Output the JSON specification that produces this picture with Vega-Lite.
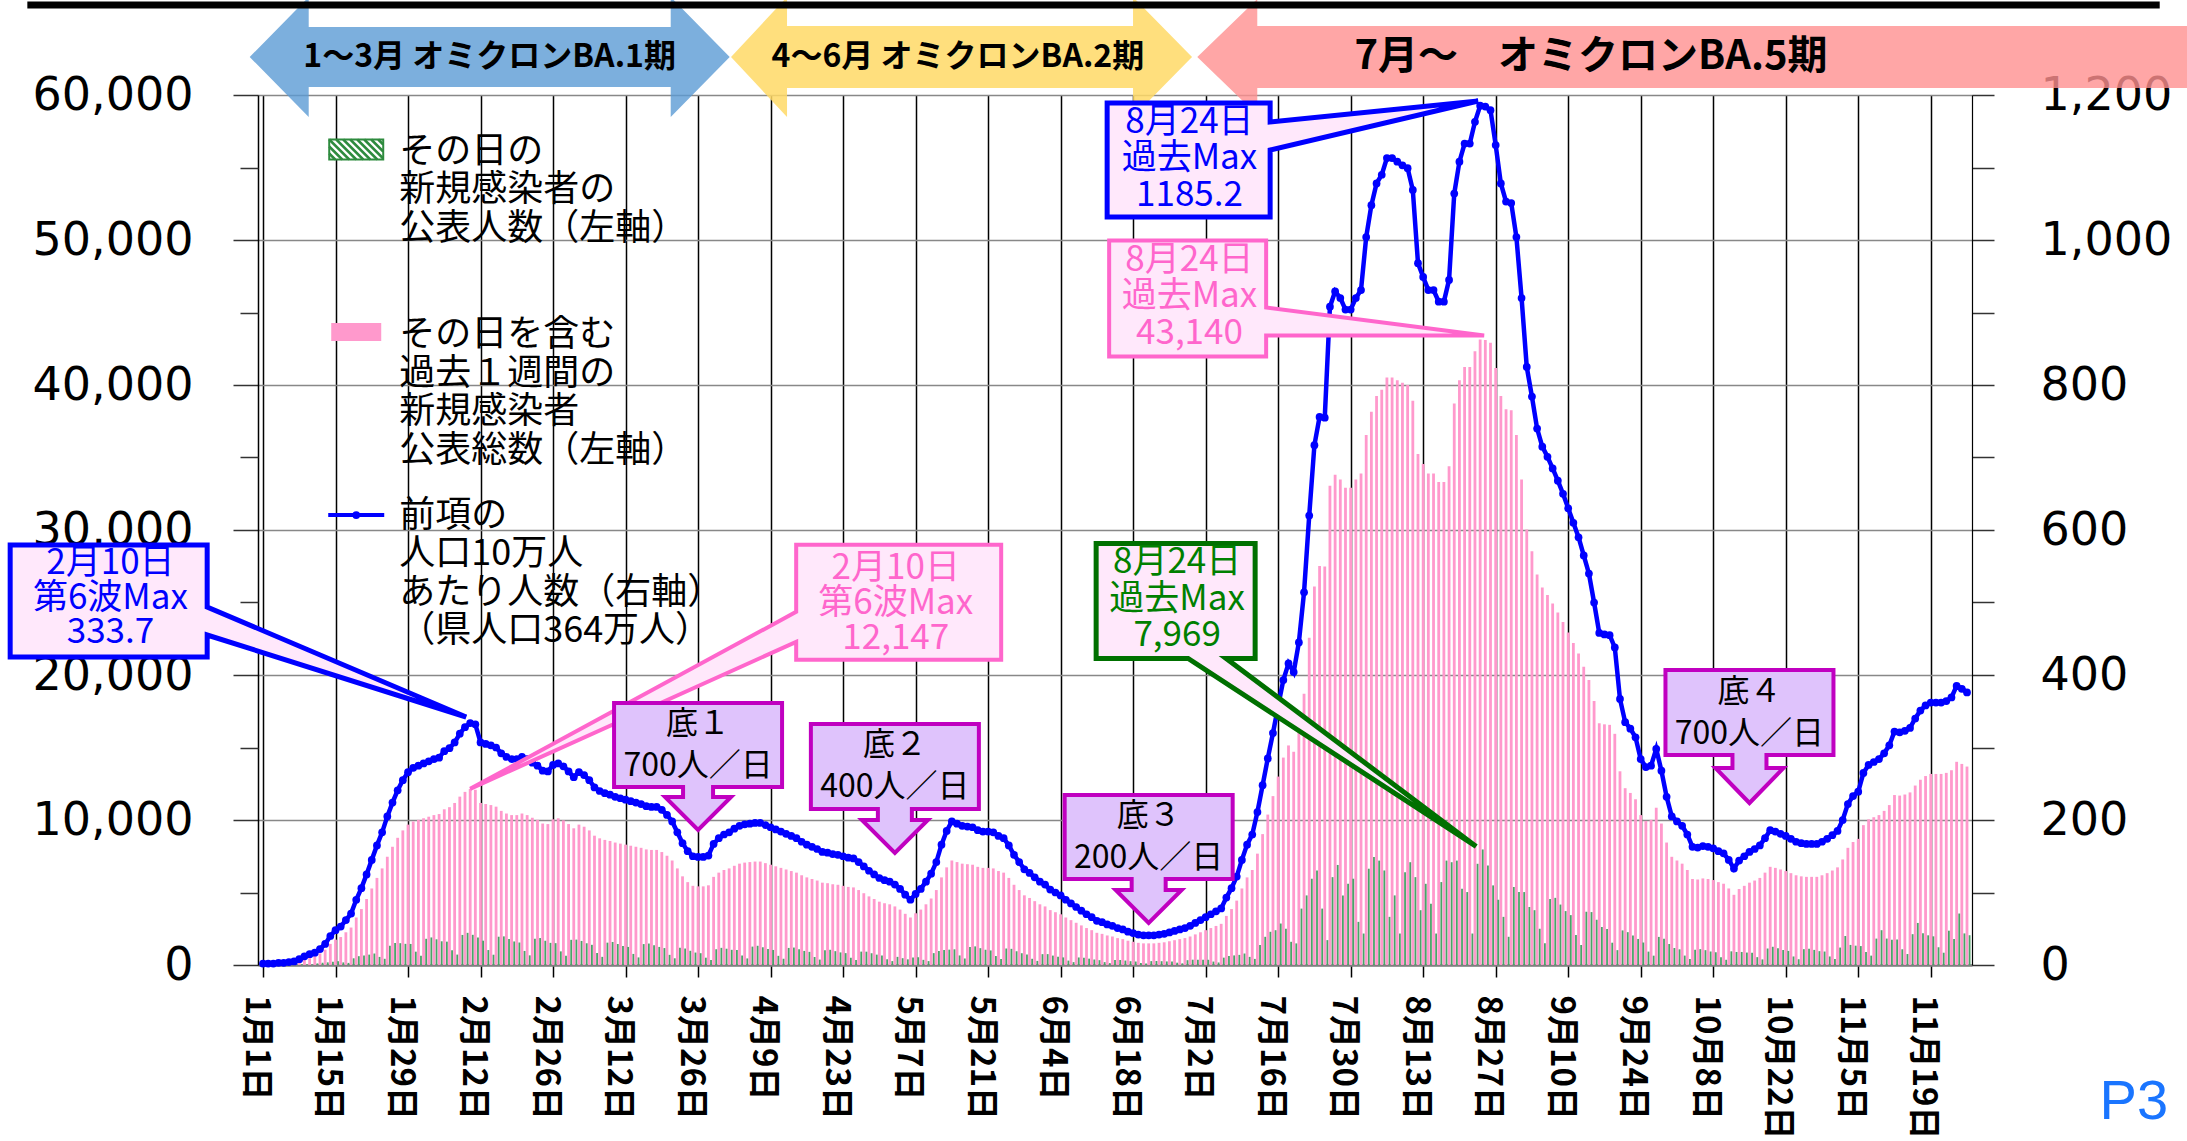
{
"$schema":"https://vega.github.io/schema/vega-lite/v6.json",
"width":1714,"height":870,
"autosize":"none",
"padding":{"left":258,"top":95,"right":215,"bottom":176},
"background":"white",
"config":{"view":{"stroke":null},"font":"Noto Sans CJK JP"},
"datasets":{"series":[
{"d":"2022-01-01","n":11,"w":73,"r":2},{"d":"2022-01-02","n":7,"w":73,"r":2},{"d":"2022-01-03","n":5,"w":73,"r":2},{"d":"2022-01-04","n":20,"w":109,"r":3},{"d":"2022-01-05","n":20,"w":109,"r":3},{"d":"2022-01-06","n":25,"w":146,"r":4},{"d":"2022-01-07","n":29,"w":182,"r":5},{"d":"2022-01-08","n":44,"w":291,"r":8},{"d":"2022-01-09","n":41,"w":437,"r":12},{"d":"2022-01-10","n":35,"w":546,"r":15},{"d":"2022-01-11","n":111,"w":619,"r":17},{"d":"2022-01-12","n":149,"w":801,"r":22},{"d":"2022-01-13","n":181,"w":1056,"r":29},{"d":"2022-01-14","n":229,"w":1456,"r":40},{"d":"2022-01-15","n":262,"w":1747,"r":48},{"d":"2022-01-16","n":179,"w":1929,"r":53},{"d":"2022-01-17","n":145,"w":2257,"r":62},{"d":"2022-01-18","n":462,"w":2584,"r":71},{"d":"2022-01-19","n":608,"w":3276,"r":90},{"d":"2022-01-20","n":661,"w":3858,"r":106},{"d":"2022-01-21","n":715,"w":4550,"r":125},{"d":"2022-01-22","n":792,"w":5278,"r":145},{"d":"2022-01-23","n":558,"w":6006,"r":165},{"d":"2022-01-24","n":428,"w":6661,"r":183},{"d":"2022-01-25","n":1333,"w":7462,"r":205},{"d":"2022-01-26","n":1514,"w":8154,"r":224},{"d":"2022-01-27","n":1504,"w":8772,"r":241},{"d":"2022-01-28","n":1459,"w":9282,"r":255},{"d":"2022-01-29","n":1452,"w":9682,"r":266},{"d":"2022-01-30","n":919,"w":9901,"r":272},{"d":"2022-01-31","n":644,"w":10010,"r":275},
{"d":"2022-02-01","n":1807,"w":10119,"r":278},{"d":"2022-02-02","n":1900,"w":10228,"r":281},{"d":"2022-02-03","n":1772,"w":10338,"r":284},{"d":"2022-02-04","n":1636,"w":10410,"r":286},{"d":"2022-02-05","n":1611,"w":10738,"r":295},{"d":"2022-02-06","n":1011,"w":10884,"r":299},{"d":"2022-02-07","n":718,"w":11175,"r":307},{"d":"2022-02-08","n":2074,"w":11612,"r":319},{"d":"2022-02-09","n":2217,"w":11939,"r":328},{"d":"2022-02-10","n":2082,"w":12147,"r":333.7},{"d":"2022-02-11","n":1899,"w":12085,"r":332},{"d":"2022-02-12","n":1676,"w":11175,"r":307},{"d":"2022-02-13","n":1031,"w":11102,"r":305},{"d":"2022-02-14","n":709,"w":11029,"r":303},{"d":"2022-02-15","n":1950,"w":10920,"r":300},{"d":"2022-02-16","n":1974,"w":10629,"r":292},{"d":"2022-02-17","n":1791,"w":10447,"r":287},{"d":"2022-02-18","n":1624,"w":10338,"r":284},{"d":"2022-02-19","n":1551,"w":10338,"r":284},{"d":"2022-02-20","n":970,"w":10447,"r":287},{"d":"2022-02-21","n":665,"w":10338,"r":284},{"d":"2022-02-22","n":1814,"w":10156,"r":279},{"d":"2022-02-23","n":1859,"w":10010,"r":275},{"d":"2022-02-24","n":1672,"w":9755,"r":268},{"d":"2022-02-25","n":1527,"w":9719,"r":267},{"d":"2022-02-26","n":1507,"w":10046,"r":276},{"d":"2022-02-27","n":940,"w":10119,"r":278},{"d":"2022-02-28","n":641,"w":9974,"r":274},
{"d":"2022-03-01","n":1736,"w":9719,"r":267},{"d":"2022-03-02","n":1751,"w":9428,"r":259},{"d":"2022-03-03","n":1660,"w":9682,"r":266},{"d":"2022-03-04","n":1499,"w":9537,"r":262},{"d":"2022-03-05","n":1392,"w":9282,"r":255},{"d":"2022-03-06","n":828,"w":8918,"r":245},{"d":"2022-03-07","n":562,"w":8736,"r":240},{"d":"2022-03-08","n":1541,"w":8627,"r":237},{"d":"2022-03-09","n":1589,"w":8554,"r":235},{"d":"2022-03-10","n":1448,"w":8445,"r":232},{"d":"2022-03-11","n":1316,"w":8372,"r":230},{"d":"2022-03-12","n":1245,"w":8299,"r":228},{"d":"2022-03-13","n":764,"w":8226,"r":226},{"d":"2022-03-14","n":524,"w":8154,"r":224},{"d":"2022-03-15","n":1443,"w":8081,"r":222},{"d":"2022-03-16","n":1480,"w":7972,"r":219},{"d":"2022-03-17","n":1360,"w":7935,"r":218},{"d":"2022-03-18","n":1247,"w":7935,"r":218},{"d":"2022-03-19","n":1168,"w":7790,"r":214},{"d":"2022-03-20","n":700,"w":7535,"r":207},{"d":"2022-03-21","n":463,"w":7207,"r":198},{"d":"2022-03-22","n":1190,"w":6661,"r":183},{"d":"2022-03-23","n":1136,"w":6115,"r":168},{"d":"2022-03-24","n":980,"w":5715,"r":157},{"d":"2022-03-25","n":858,"w":5460,"r":150},{"d":"2022-03-26","n":814,"w":5424,"r":149},{"d":"2022-03-27","n":504,"w":5424,"r":149},{"d":"2022-03-28","n":353,"w":5496,"r":151},{"d":"2022-03-29","n":1086,"w":6079,"r":167},{"d":"2022-03-30","n":1183,"w":6370,"r":175},{"d":"2022-03-31","n":1123,"w":6552,"r":180},
{"d":"2022-04-01","n":1047,"w":6661,"r":183},{"d":"2022-04-02","n":1026,"w":6843,"r":188},{"d":"2022-04-03","n":649,"w":6989,"r":192},{"d":"2022-04-04","n":454,"w":7062,"r":194},{"d":"2022-04-05","n":1268,"w":7098,"r":195},{"d":"2022-04-06","n":1325,"w":7134,"r":196},{"d":"2022-04-07","n":1223,"w":7134,"r":196},{"d":"2022-04-08","n":1104,"w":7025,"r":193},{"d":"2022-04-09","n":1037,"w":6916,"r":190},{"d":"2022-04-10","n":632,"w":6807,"r":187},{"d":"2022-04-11","n":431,"w":6698,"r":184},{"d":"2022-04-12","n":1177,"w":6588,"r":181},{"d":"2022-04-13","n":1203,"w":6479,"r":178},{"d":"2022-04-14","n":1092,"w":6370,"r":175},{"d":"2022-04-15","n":972,"w":6188,"r":170},{"d":"2022-04-16","n":906,"w":6042,"r":166},{"d":"2022-04-17","n":551,"w":5933,"r":163},{"d":"2022-04-18","n":374,"w":5824,"r":160},{"d":"2022-04-19","n":1014,"w":5678,"r":156},{"d":"2022-04-20","n":1048,"w":5642,"r":155},{"d":"2022-04-21","n":955,"w":5569,"r":153},{"d":"2022-04-22","n":869,"w":5533,"r":152},{"d":"2022-04-23","n":819,"w":5460,"r":150},{"d":"2022-04-24","n":500,"w":5387,"r":148},{"d":"2022-04-25","n":344,"w":5351,"r":147},{"d":"2022-04-26","n":923,"w":5169,"r":142},{"d":"2022-04-27","n":919,"w":4950,"r":136},{"d":"2022-04-28","n":811,"w":4732,"r":130},{"d":"2022-04-29","n":715,"w":4550,"r":125},{"d":"2022-04-30","n":655,"w":4368,"r":120},
{"d":"2022-05-01","n":395,"w":4259,"r":117},{"d":"2022-05-02","n":269,"w":4186,"r":115},{"d":"2022-05-03","n":560,"w":4040,"r":111},{"d":"2022-05-04","n":470,"w":3822,"r":105},{"d":"2022-05-05","n":390,"w":3531,"r":97},{"d":"2022-05-06","n":515,"w":3276,"r":90},{"d":"2022-05-07","n":535,"w":3567,"r":98},{"d":"2022-05-08","n":355,"w":3822,"r":105},{"d":"2022-05-09","n":269,"w":4186,"r":115},{"d":"2022-05-10","n":819,"w":4586,"r":126},{"d":"2022-05-11","n":960,"w":5169,"r":142},{"d":"2022-05-12","n":1036,"w":6042,"r":166},{"d":"2022-05-13","n":1058,"w":6734,"r":185},{"d":"2022-05-14","n":1081,"w":7207,"r":198},{"d":"2022-05-15","n":659,"w":7098,"r":195},{"d":"2022-05-16","n":449,"w":6989,"r":192},{"d":"2022-05-17","n":1242,"w":6952,"r":191},{"d":"2022-05-18","n":1284,"w":6916,"r":190},{"d":"2022-05-19","n":1161,"w":6770,"r":186},{"d":"2022-05-20","n":1052,"w":6698,"r":184},{"d":"2022-05-21","n":1005,"w":6698,"r":184},{"d":"2022-05-22","n":619,"w":6661,"r":183},{"d":"2022-05-23","n":417,"w":6479,"r":178},{"d":"2022-05-24","n":1138,"w":6370,"r":175},{"d":"2022-05-25","n":1115,"w":6006,"r":165},{"d":"2022-05-26","n":948,"w":5533,"r":152},{"d":"2022-05-27","n":812,"w":5169,"r":142},{"d":"2022-05-28","n":721,"w":4805,"r":132},{"d":"2022-05-29","n":429,"w":4623,"r":127},{"d":"2022-05-30","n":283,"w":4404,"r":121},{"d":"2022-05-31","n":748,"w":4186,"r":115},
{"d":"2022-06-01","n":750,"w":4040,"r":111},{"d":"2022-06-02","n":649,"w":3786,"r":104},{"d":"2022-06-03","n":572,"w":3640,"r":100},{"d":"2022-06-04","n":524,"w":3494,"r":96},{"d":"2022-06-05","n":304,"w":3276,"r":90},{"d":"2022-06-06","n":199,"w":3094,"r":85},{"d":"2022-06-07","n":520,"w":2912,"r":80},{"d":"2022-06-08","n":507,"w":2730,"r":75},{"d":"2022-06-09","n":437,"w":2548,"r":70},{"d":"2022-06-10","n":378,"w":2402,"r":66},{"d":"2022-06-11","n":333,"w":2220,"r":61},{"d":"2022-06-12","n":199,"w":2148,"r":59},{"d":"2022-06-13","n":131,"w":2038,"r":56},{"d":"2022-06-14","n":351,"w":1966,"r":54},{"d":"2022-06-15","n":345,"w":1856,"r":51},{"d":"2022-06-16","n":306,"w":1784,"r":49},{"d":"2022-06-17","n":263,"w":1674,"r":46},{"d":"2022-06-18","n":240,"w":1602,"r":44},{"d":"2022-06-19","n":142,"w":1529,"r":42},{"d":"2022-06-20","n":96,"w":1492,"r":41},{"d":"2022-06-21","n":267,"w":1492,"r":41},{"d":"2022-06-22","n":277,"w":1492,"r":41},{"d":"2022-06-23","n":262,"w":1529,"r":42},{"d":"2022-06-24","n":246,"w":1565,"r":43},{"d":"2022-06-25","n":246,"w":1638,"r":45},{"d":"2022-06-26","n":159,"w":1711,"r":47},{"d":"2022-06-27","n":115,"w":1784,"r":49},{"d":"2022-06-28","n":332,"w":1856,"r":51},{"d":"2022-06-29","n":365,"w":1966,"r":54},{"d":"2022-06-30","n":362,"w":2111,"r":58},
{"d":"2022-07-01","n":355,"w":2257,"r":62},{"d":"2022-07-02","n":360,"w":2402,"r":66},{"d":"2022-07-03","n":237,"w":2548,"r":70},{"d":"2022-07-04","n":173,"w":2694,"r":74},{"d":"2022-07-05","n":507,"w":2839,"r":78},{"d":"2022-07-06","n":629,"w":3385,"r":93},{"d":"2022-07-07","n":661,"w":3858,"r":106},{"d":"2022-07-08","n":698,"w":4441,"r":122},{"d":"2022-07-09","n":792,"w":5278,"r":145},{"d":"2022-07-10","n":561,"w":6042,"r":166},{"d":"2022-07-11","n":421,"w":6552,"r":180},{"d":"2022-07-12","n":1372,"w":7680,"r":211},{"d":"2022-07-13","n":1945,"w":9027,"r":248},{"d":"2022-07-14","n":2290,"w":10374,"r":285},{"d":"2022-07-15","n":2400,"w":11648,"r":320},{"d":"2022-07-16","n":2860,"w":12995,"r":357},{"d":"2022-07-17","n":2500,"w":14305,"r":393},{"d":"2022-07-18","n":1600,"w":15142,"r":416},{"d":"2022-07-19","n":1490,"w":14706,"r":404},{"d":"2022-07-20","n":3890,"w":16198,"r":445},{"d":"2022-07-21","n":4800,"w":18710,"r":514},{"d":"2022-07-22","n":5950,"w":22568,"r":620},{"d":"2022-07-23","n":6520,"w":26099,"r":717},{"d":"2022-07-24","n":3890,"w":27518,"r":756},{"d":"2022-07-25","n":1716,"w":27482,"r":755},{"d":"2022-07-26","n":6060,"w":33051,"r":908},{"d":"2022-07-27","n":6900,"w":33816,"r":929},{"d":"2022-07-28","n":4800,"w":33488,"r":920},{"d":"2022-07-29","n":5600,"w":32906,"r":904},{"d":"2022-07-30","n":5950,"w":32906,"r":904},{"d":"2022-07-31","n":2975,"w":33488,"r":920},
{"d":"2022-08-01","n":2170,"w":33888,"r":931},{"d":"2022-08-02","n":6640,"w":36546,"r":1004},{"d":"2022-08-03","n":7440,"w":38147,"r":1048},{"d":"2022-08-04","n":7200,"w":39239,"r":1078},{"d":"2022-08-05","n":6520,"w":39676,"r":1090},{"d":"2022-08-06","n":3320,"w":40513,"r":1113},{"d":"2022-08-07","n":4800,"w":40513,"r":1113},{"d":"2022-08-08","n":2170,"w":40331,"r":1108},{"d":"2022-08-09","n":6400,"w":40149,"r":1103},{"d":"2022-08-10","n":7090,"w":40004,"r":1099},{"d":"2022-08-11","n":6060,"w":38912,"r":1069},{"d":"2022-08-12","n":3780,"w":35235,"r":968},{"d":"2022-08-13","n":5600,"w":34544,"r":949},{"d":"2022-08-14","n":4230,"w":33888,"r":931},{"d":"2022-08-15","n":2170,"w":33888,"r":931},{"d":"2022-08-16","n":5720,"w":33306,"r":915},{"d":"2022-08-17","n":7200,"w":33306,"r":915},{"d":"2022-08-18","n":7090,"w":34398,"r":945},{"d":"2022-08-19","n":7200,"w":38730,"r":1064},{"d":"2022-08-20","n":5260,"w":40331,"r":1108},{"d":"2022-08-21","n":5030,"w":41241,"r":1133},{"d":"2022-08-22","n":2170,"w":41241,"r":1133},{"d":"2022-08-23","n":6980,"w":42333,"r":1163},{"d":"2022-08-24","n":7969,"w":43140,"r":1185.2},{"d":"2022-08-25","n":6860,"w":43098,"r":1184},{"d":"2022-08-26","n":5490,"w":42916,"r":1179},{"d":"2022-08-27","n":4500,"w":41168,"r":1131},{"d":"2022-08-28","n":3320,"w":39239,"r":1078},{"d":"2022-08-29","n":1945,"w":38329,"r":1053},{"d":"2022-08-30","n":5380,"w":38256,"r":1051},{"d":"2022-08-31","n":5030,"w":36546,"r":1004},
{"d":"2022-09-01","n":5030,"w":33488,"r":920},{"d":"2022-09-02","n":4000,"w":30030,"r":825},{"d":"2022-09-03","n":3780,"w":28538,"r":784},{"d":"2022-09-04","n":2500,"w":26936,"r":740},{"d":"2022-09-05","n":1500,"w":26026,"r":715},{"d":"2022-09-06","n":4557,"w":25516,"r":701},{"d":"2022-09-07","n":4631,"w":24934,"r":685},{"d":"2022-09-08","n":4168,"w":24315,"r":668},{"d":"2022-09-09","n":3718,"w":23660,"r":650},{"d":"2022-09-10","n":3440,"w":22932,"r":630},{"d":"2022-09-11","n":2062,"w":22204,"r":610},{"d":"2022-09-12","n":1381,"w":21476,"r":590},{"d":"2022-09-13","n":3673,"w":20566,"r":565},{"d":"2022-09-14","n":3650,"w":19656,"r":540},{"d":"2022-09-15","n":3120,"w":18200,"r":500},{"d":"2022-09-16","n":2620,"w":16671,"r":458},{"d":"2022-09-17","n":2490,"w":16598,"r":456},{"d":"2022-09-18","n":1538,"w":16562,"r":455},{"d":"2022-09-19","n":1025,"w":15943,"r":438},{"d":"2022-09-20","n":2386,"w":13359,"r":367},{"d":"2022-09-21","n":2265,"w":12194,"r":335},{"d":"2022-09-22","n":2034,"w":11866,"r":326},{"d":"2022-09-23","n":1796,"w":11430,"r":314},{"d":"2022-09-24","n":1551,"w":10338,"r":284},{"d":"2022-09-25","n":923,"w":9937,"r":273},{"d":"2022-09-26","n":644,"w":10010,"r":275},{"d":"2022-09-27","n":1937,"w":10847,"r":298},{"d":"2022-09-28","n":1812,"w":9755,"r":268},{"d":"2022-09-29","n":1448,"w":8445,"r":232},{"d":"2022-09-30","n":1173,"w":7462,"r":205},
{"d":"2022-10-01","n":1081,"w":7207,"r":198},{"d":"2022-10-02","n":649,"w":6989,"r":192},{"d":"2022-10-03","n":421,"w":6552,"r":180},{"d":"2022-10-04","n":1060,"w":5933,"r":163},{"d":"2022-10-05","n":1095,"w":5897,"r":162},{"d":"2022-10-06","n":1023,"w":5970,"r":164},{"d":"2022-10-07","n":932,"w":5933,"r":163},{"d":"2022-10-08","n":879,"w":5860,"r":161},{"d":"2022-10-09","n":531,"w":5715,"r":157},{"d":"2022-10-10","n":360,"w":5606,"r":154},{"d":"2022-10-11","n":943,"w":5278,"r":145},{"d":"2022-10-12","n":899,"w":4841,"r":133},{"d":"2022-10-13","n":899,"w":5242,"r":144},{"d":"2022-10-14","n":858,"w":5460,"r":150},{"d":"2022-10-15","n":852,"w":5678,"r":156},{"d":"2022-10-16","n":541,"w":5824,"r":160},{"d":"2022-10-17","n":386,"w":6006,"r":165},{"d":"2022-10-18","n":1138,"w":6370,"r":175},{"d":"2022-10-19","n":1257,"w":6770,"r":186},{"d":"2022-10-20","n":1148,"w":6698,"r":184},{"d":"2022-10-21","n":1035,"w":6588,"r":181},{"d":"2022-10-22","n":972,"w":6479,"r":178},{"d":"2022-10-23","n":588,"w":6334,"r":174},{"d":"2022-10-24","n":398,"w":6188,"r":170},{"d":"2022-10-25","n":1092,"w":6115,"r":168},{"d":"2022-10-26","n":1129,"w":6079,"r":167},{"d":"2022-10-27","n":1042,"w":6079,"r":167},{"d":"2022-10-28","n":955,"w":6079,"r":167},{"d":"2022-10-29","n":928,"w":6188,"r":170},{"d":"2022-10-30","n":588,"w":6334,"r":174},{"d":"2022-10-31","n":419,"w":6516,"r":179},
{"d":"2022-11-01","n":1203,"w":6734,"r":185},{"d":"2022-11-02","n":2000,"w":7280,"r":200},{"d":"2022-11-03","n":1385,"w":8081,"r":222},{"d":"2022-11-04","n":1333,"w":8481,"r":233},{"d":"2022-11-05","n":1305,"w":8700,"r":239},{"d":"2022-11-06","n":896,"w":9646,"r":265},{"d":"2022-11-07","n":646,"w":10046,"r":276},{"d":"2022-11-08","n":1820,"w":10192,"r":280},{"d":"2022-11-09","n":2400,"w":10338,"r":284},{"d":"2022-11-10","n":1822,"w":10629,"r":292},{"d":"2022-11-11","n":1733,"w":11029,"r":303},{"d":"2022-11-12","n":1758,"w":11721,"r":322},{"d":"2022-11-13","n":1085,"w":11684,"r":321},{"d":"2022-11-14","n":756,"w":11757,"r":323},{"d":"2022-11-15","n":2126,"w":11903,"r":327},{"d":"2022-11-16","n":2900,"w":12376,"r":340},{"d":"2022-11-17","n":2190,"w":12776,"r":351},{"d":"2022-11-18","n":2048,"w":13031,"r":358},{"d":"2022-11-19","n":1977,"w":13177,"r":362},{"d":"2022-11-20","n":1224,"w":13177,"r":362},{"d":"2022-11-21","n":847,"w":13177,"r":362},{"d":"2022-11-22","n":2366,"w":13250,"r":364},{"d":"2022-11-23","n":1800,"w":13432,"r":369},{"d":"2022-11-24","n":3550,"w":14014,"r":385},{"d":"2022-11-25","n":2179,"w":13868,"r":381},{"d":"2022-11-26","n":2053,"w":13686,"r":376}
]},
"layer":[
  {"data":{"name":"series"},
   "mark":{"type":"bar","width":2.8,"color":"#ff99cc"},
   "encoding":{
    "x":{"field":"d","type":"temporal","scale":{"type":"utc","domain":[1640995200000,1669420800000]},
     "axis":{"title":null,
      "values":[{"year":2022,"month":1,"date":1,"utc":true},{"year":2022,"month":1,"date":8,"utc":true},{"year":2022,"month":1,"date":15,"utc":true},{"year":2022,"month":1,"date":22,"utc":true},{"year":2022,"month":1,"date":29,"utc":true},{"year":2022,"month":2,"date":5,"utc":true},{"year":2022,"month":2,"date":12,"utc":true},{"year":2022,"month":2,"date":19,"utc":true},{"year":2022,"month":2,"date":26,"utc":true},{"year":2022,"month":3,"date":5,"utc":true},{"year":2022,"month":3,"date":12,"utc":true},{"year":2022,"month":3,"date":19,"utc":true},{"year":2022,"month":3,"date":26,"utc":true},{"year":2022,"month":4,"date":2,"utc":true},{"year":2022,"month":4,"date":9,"utc":true},{"year":2022,"month":4,"date":16,"utc":true},{"year":2022,"month":4,"date":23,"utc":true},{"year":2022,"month":4,"date":30,"utc":true},{"year":2022,"month":5,"date":7,"utc":true},{"year":2022,"month":5,"date":14,"utc":true},{"year":2022,"month":5,"date":21,"utc":true},{"year":2022,"month":5,"date":28,"utc":true},{"year":2022,"month":6,"date":4,"utc":true},{"year":2022,"month":6,"date":11,"utc":true},{"year":2022,"month":6,"date":18,"utc":true},{"year":2022,"month":6,"date":25,"utc":true},{"year":2022,"month":7,"date":2,"utc":true},{"year":2022,"month":7,"date":9,"utc":true},{"year":2022,"month":7,"date":16,"utc":true},{"year":2022,"month":7,"date":23,"utc":true},{"year":2022,"month":7,"date":30,"utc":true},{"year":2022,"month":8,"date":6,"utc":true},{"year":2022,"month":8,"date":13,"utc":true},{"year":2022,"month":8,"date":20,"utc":true},{"year":2022,"month":8,"date":27,"utc":true},{"year":2022,"month":9,"date":3,"utc":true},{"year":2022,"month":9,"date":10,"utc":true},{"year":2022,"month":9,"date":17,"utc":true},{"year":2022,"month":9,"date":24,"utc":true},{"year":2022,"month":10,"date":1,"utc":true},{"year":2022,"month":10,"date":8,"utc":true},{"year":2022,"month":10,"date":15,"utc":true},{"year":2022,"month":10,"date":22,"utc":true},{"year":2022,"month":10,"date":29,"utc":true},{"year":2022,"month":11,"date":5,"utc":true},{"year":2022,"month":11,"date":12,"utc":true},{"year":2022,"month":11,"date":19,"utc":true},{"year":2022,"month":11,"date":26,"utc":true}],
      "labelExpr":"round((datum.value - 1640995200000) / 604800000) % 2 == 0 ? (utcmonth(datum.value) + 1) + '月' + utcdate(datum.value) + '日' : ''",
      "labelAngle":90,"labelAlign":"left","labelBaseline":"middle","labelOffset":-8,
      "labelFont":"Noto Sans CJK JP","labelFontSize":33,"labelFontWeight":"bold","labelColor":"#000000",
      "labelPadding":18,"labelOverlap":false,"labelBound":false,"labelFlush":false,
      "tickSize":12,"tickColor":"#000000","tickWidth":1.5,
      "domainColor":"#808080","domainWidth":2.5,
      "grid":true,"gridColor":"#000000","gridWidth":1.5}},
    "y":{"field":"w","type":"quantitative","scale":{"domain":[0,60000],"nice":false},
     "axis":{"title":null,"orient":"left",
      "values":[0,10000,20000,30000,40000,50000,60000],
      "labelExpr":"format(datum.value, ',')",
      "labelFont":"DejaVu Sans","labelFontSize":46,"labelColor":"#000000","labelPadding":40,
      "tickSize":25,"tickColor":"#333333","tickWidth":1.5,"domainColor":"#000000","domainWidth":1.5,
      "grid":true,"gridColor":"#888888","gridWidth":1.5,
      "labelFlush":false}}}},
  {"data":{"name":"series"},
   "mark":{"type":"bar","width":1.8,"color":"#4aa368","xOffset":2.6},
   "encoding":{
    "x":{"field":"d","type":"temporal","scale":{"type":"utc","domain":[1640995200000,1669420800000]}},
    "y":{"field":"n","type":"quantitative","scale":{"domain":[0,60000],"nice":false},
     "axis":{"title":null,"orient":"left","values":[5000,15000,25000,35000,45000,55000],"labels":false,"domain":false,"grid":false,"tickSize":18,"tickColor":"#333333","tickWidth":1.5}}}},
  {"data":{"name":"series"},
   "mark":{"type":"line","color":"#0000ff","strokeWidth":4.5,"point":{"filled":true,"size":60,"color":"#0000ff","opacity":1}},
   "encoding":{
    "x":{"field":"d","type":"temporal","scale":{"type":"utc","domain":[1640995200000,1669420800000]}},
    "y":{"field":"r","type":"quantitative","scale":{"domain":[0,1200],"nice":false},
     "axis":{"title":null,"orient":"right",
      "values":[0,100,200,300,400,500,600,700,800,900,1000,1100,1200],
      "labelExpr":"datum.value % 200 == 0 ? format(datum.value, ',') : ''",
      "labelFont":"DejaVu Sans","labelFontSize":46,"labelColor":"#000000","labelPadding":46,
      "tickSize":22,"tickColor":"#333333","tickWidth":1.5,"domainColor":"#000000","domainWidth":1.2,"grid":false,"labelFlush":false}}}},
  {"data":{"values":[{}]},
   "layer":[
  {"mark":{"type":"point","shape":"M-236,0 L-177,-60 L-177,-30 L185,-30 L185,-60 L244,0 L185,60 L185,30 L-177,30 L-177,60 Z","size":4,"filled":true,"fill":"#5b9bd5","strokeWidth":0,"opacity":0.8},
   "encoding":{"x":{"datum":{"year":2022,"month":2,"date":13,"utc":true},"type":"temporal","scale":{"type":"utc","domain":[1640995200000,1669420800000]}},
    "y":{"datum":62621,"type":"quantitative","scale":{"domain":[0,60000],"nice":false},"axis":null}}},
  {"mark":{"type":"point","shape":"M-226,0 L-170,-60 L-170,-31 L176,-31 L176,-60 L235,0 L176,60 L176,31 L-170,31 L-170,60 Z","size":4,"filled":true,"fill":"#ffd966","strokeWidth":0,"opacity":0.85},
   "encoding":{"x":{"datum":{"year":2022,"month":5,"date":15,"utc":true},"type":"temporal","scale":{"type":"utc","domain":[1640995200000,1669420800000]}},
    "y":{"datum":62621,"type":"quantitative","scale":{"domain":[0,60000],"nice":false},"axis":null}}},
  {"mark":{"type":"point","shape":"M2,0 L62,-58 L62,-31 L1000,-31 L1000,31 L62,31 L62,58 Z","size":4,"filled":true,"fill":"#ff9090","strokeWidth":0,"opacity":0.8},
   "encoding":{"x":{"datum":{"year":2022,"month":6,"date":30,"utc":true},"type":"temporal","scale":{"type":"utc","domain":[1640995200000,1669420800000]}},
    "y":{"datum":62621,"type":"quantitative","scale":{"domain":[0,60000],"nice":false},"axis":null}}},
  {"mark":{"type":"rule","color":"#000000","strokeWidth":7},
   "encoding":{"x":{"datum":{"year":2021,"month":11,"date":16,"hours":12,"utc":true},"type":"temporal","scale":{"type":"utc","domain":[1640995200000,1669420800000]}},
    "x2":{"datum":{"year":2023,"month":1,"date":2,"hours":5,"utc":true}},
    "y":{"datum":66207,"type":"quantitative","scale":{"domain":[0,60000],"nice":false},"axis":null}}},
  {"mark":{"type":"text","text":"1～3月 オミクロンBA.1期","font":"Noto Sans CJK JP","fontSize":32,"fontWeight":"bold","color":"#000000","align":"center","baseline":"middle"},
   "encoding":{"x":{"datum":{"year":2022,"month":2,"date":13,"hours":18,"utc":true},"type":"temporal","scale":{"type":"utc","domain":[1640995200000,1669420800000]}},
    "y":{"datum":62621,"type":"quantitative","scale":{"domain":[0,60000],"nice":false},"axis":null}}},
  {"mark":{"type":"text","text":"4～6月 オミクロンBA.2期","font":"Noto Sans CJK JP","fontSize":32,"fontWeight":"bold","color":"#000000","align":"center","baseline":"middle"},
   "encoding":{"x":{"datum":{"year":2022,"month":5,"date":15,"hours":4,"utc":true},"type":"temporal","scale":{"type":"utc","domain":[1640995200000,1669420800000]}},
    "y":{"datum":62621,"type":"quantitative","scale":{"domain":[0,60000],"nice":false},"axis":null}}},
  {"mark":{"type":"text","text":"7月～　オミクロンBA.5期","font":"Noto Sans CJK JP","fontSize":40,"fontWeight":"bold","color":"#000000","align":"center","baseline":"middle"},
   "encoding":{"x":{"datum":{"year":2022,"month":9,"date":14,"hours":10,"utc":true},"type":"temporal","scale":{"type":"utc","domain":[1640995200000,1669420800000]}},
    "y":{"datum":62621,"type":"quantitative","scale":{"domain":[0,60000],"nice":false},"axis":null}}},

  {"mark":{"type":"point","shape":"M-460,-172 L-263,-172 L-263,-110 L-4,0 L-263,-82 L-263,-60 L-460,-60 Z","size":4,"filled":true,"fill":"#ffe8fb","stroke":"#0000ff","strokeWidth":5,"strokeJoin":"miter","opacity":1},
   "encoding":{"x":{"datum":{"year":2022,"month":2,"date":10,"utc":true},"type":"temporal","scale":{"type":"utc","domain":[1640995200000,1669420800000]}},
    "y":{"datum":17103,"type":"quantitative","scale":{"domain":[0,60000],"nice":false},"axis":null}}},
  {"mark":{"type":"text","text":["2月10日","第6波Max","333.7"],"lineHeight":34.5,"font":"Noto Sans CJK JP","fontSize":35,"color":"#0000ff","align":"center","baseline":"middle"},
   "encoding":{"x":{"datum":{"year":2021,"month":12,"date":2,"hours":13,"utc":true},"type":"temporal","scale":{"type":"utc","domain":[1640995200000,1669420800000]}},
    "y":{"datum":27724,"type":"quantitative","scale":{"domain":[0,60000],"nice":false},"axis":null}}},

  {"mark":{"type":"point","shape":"M326,-244 L531,-244 L531,-129 L326,-129 L326,-147 L0,0 L326,-177 Z","size":4,"filled":true,"fill":"#ffe8fb","stroke":"#ff66cc","strokeWidth":4,"strokeJoin":"miter","opacity":1},
   "encoding":{"x":{"datum":{"year":2022,"month":2,"date":10,"utc":true},"type":"temporal","scale":{"type":"utc","domain":[1640995200000,1669420800000]}},
    "y":{"datum":12147,"type":"quantitative","scale":{"domain":[0,60000],"nice":false},"axis":null}}},
  {"mark":{"type":"text","text":["2月10日","第6波Max","12,147"],"lineHeight":35,"font":"Noto Sans CJK JP","fontSize":35,"color":"#ff66cc","align":"center","baseline":"middle"},
   "encoding":{"x":{"datum":{"year":2022,"month":5,"date":3,"hours":4,"utc":true},"type":"temporal","scale":{"type":"utc","domain":[1640995200000,1669420800000]}},
    "y":{"datum":27379,"type":"quantitative","scale":{"domain":[0,60000],"nice":false},"axis":null}}},

  {"mark":{"type":"point","shape":"M-373,2 L-210,2 L-210,21 L-2,0 L-210,49 L-210,116 L-373,116 Z","size":4,"filled":true,"fill":"#ffe8fb","stroke":"#0000ff","strokeWidth":5,"strokeJoin":"miter","opacity":1},
   "encoding":{"x":{"datum":{"year":2022,"month":8,"date":24,"utc":true},"type":"temporal","scale":{"type":"utc","domain":[1640995200000,1669420800000]}},
    "y":{"datum":59586,"type":"quantitative","scale":{"domain":[0,60000],"nice":false},"axis":null}}},
  {"mark":{"type":"text","text":["8月24日","過去Max","1185.2"],"lineHeight":36.5,"font":"Noto Sans CJK JP","fontSize":35,"color":"#0000ff","align":"center","baseline":"middle"},
   "encoding":{"x":{"datum":{"year":2022,"month":6,"date":28,"hours":21,"utc":true},"type":"temporal","scale":{"type":"utc","domain":[1640995200000,1669420800000]}},
    "y":{"datum":58138,"type":"quantitative","scale":{"domain":[0,60000],"nice":false},"axis":null}}},

  {"mark":{"type":"point","shape":"M-371,-99 L-214,-99 L-214,-32 L4,-4 L-214,-4 L-214,17 L-371,17 Z","size":4,"filled":true,"fill":"#ffe8fb","stroke":"#ff66cc","strokeWidth":4,"strokeJoin":"miter","opacity":1},
   "encoding":{"x":{"datum":{"year":2022,"month":8,"date":24,"utc":true},"type":"temporal","scale":{"type":"utc","domain":[1640995200000,1669420800000]}},
    "y":{"datum":43140,"type":"quantitative","scale":{"domain":[0,60000],"nice":false},"axis":null}}},
  {"mark":{"type":"text","text":["8月24日","過去Max","43,140"],"lineHeight":36.5,"font":"Noto Sans CJK JP","fontSize":35,"color":"#ff66cc","align":"center","baseline":"middle"},
   "encoding":{"x":{"datum":{"year":2022,"month":6,"date":28,"hours":21,"utc":true},"type":"temporal","scale":{"type":"utc","domain":[1640995200000,1669420800000]}},
    "y":{"datum":48621,"type":"quantitative","scale":{"domain":[0,60000],"nice":false},"axis":null}}},

  {"mark":{"type":"point","shape":"M-384,-306 L-225,-306 L-225,-191 L-254,-191 L-4,-3 L-292,-191 L-384,-191 Z","size":4,"filled":true,"fill":"#ffe8fb","stroke":"#007000","strokeWidth":5,"strokeJoin":"miter","opacity":1},
   "encoding":{"x":{"datum":{"year":2022,"month":8,"date":24,"utc":true},"type":"temporal","scale":{"type":"utc","domain":[1640995200000,1669420800000]}},
    "y":{"datum":7969,"type":"quantitative","scale":{"domain":[0,60000],"nice":false},"axis":null}}},
  {"mark":{"type":"text","text":["8月24日","過去Max","7,969"],"lineHeight":36.5,"font":"Noto Sans CJK JP","fontSize":35,"color":"#008000","align":"center","baseline":"middle"},
   "encoding":{"x":{"datum":{"year":2022,"month":6,"date":26,"hours":12,"utc":true},"type":"temporal","scale":{"type":"utc","domain":[1640995200000,1669420800000]}},
    "y":{"datum":27793,"type":"quantitative","scale":{"domain":[0,60000],"nice":false},"axis":null}}},

  {"mark":{"type":"point","shape":"M-84,-127 L84,-127 L84,-43 L15,-43 L15,-33 L33,-33 L0,0 L-33,-33 L-15,-33 L-15,-43 L-84,-43 Z","size":4,"filled":true,"fill":"#dfc3fc","stroke":"#c000c0","strokeWidth":4,"strokeJoin":"miter","opacity":1},
   "encoding":{"x":{"datum":{"year":2022,"month":3,"date":26,"utc":true},"type":"temporal","scale":{"type":"utc","domain":[1640995200000,1669420800000]}},
    "y":{"datum":9310,"type":"quantitative","scale":{"domain":[0,60000],"nice":false},"axis":null}}},
  {"mark":{"type":"text","text":["底１","700人／日"],"lineHeight":42,"font":"Noto Sans CJK JP","fontSize":32,"color":"#000000","align":"center","baseline":"middle"},
   "encoding":{"x":{"datum":{"year":2022,"month":3,"date":26,"utc":true},"type":"temporal","scale":{"type":"utc","domain":[1640995200000,1669420800000]}},
    "y":{"datum":16621,"type":"quantitative","scale":{"domain":[0,60000],"nice":false},"axis":null}}},

  {"mark":{"type":"point","shape":"M-84,-129 L84,-129 L84,-44 L17,-44 L17,-33 L33,-33 L0,0 L-33,-33 L-17,-33 L-17,-44 L-84,-44 Z","size":4,"filled":true,"fill":"#dfc3fc","stroke":"#c000c0","strokeWidth":4,"strokeJoin":"miter","opacity":1},
   "encoding":{"x":{"datum":{"year":2022,"month":5,"date":3,"utc":true},"type":"temporal","scale":{"type":"utc","domain":[1640995200000,1669420800000]}},
    "y":{"datum":7724,"type":"quantitative","scale":{"domain":[0,60000],"nice":false},"axis":null}}},
  {"mark":{"type":"text","text":["底２","400人／日"],"lineHeight":42,"font":"Noto Sans CJK JP","fontSize":32,"color":"#000000","align":"center","baseline":"middle"},
   "encoding":{"x":{"datum":{"year":2022,"month":5,"date":3,"utc":true},"type":"temporal","scale":{"type":"utc","domain":[1640995200000,1669420800000]}},
    "y":{"datum":15138,"type":"quantitative","scale":{"domain":[0,60000],"nice":false},"axis":null}}},

  {"mark":{"type":"point","shape":"M-84,-128 L84,-128 L84,-44 L17,-44 L17,-33 L33,-33 L0,0 L-33,-33 L-17,-33 L-17,-44 L-84,-44 Z","size":4,"filled":true,"fill":"#dfc3fc","stroke":"#c000c0","strokeWidth":4,"strokeJoin":"miter","opacity":1},
   "encoding":{"x":{"datum":{"year":2022,"month":6,"date":21,"utc":true},"type":"temporal","scale":{"type":"utc","domain":[1640995200000,1669420800000]}},
    "y":{"datum":2897,"type":"quantitative","scale":{"domain":[0,60000],"nice":false},"axis":null}}},
  {"mark":{"type":"text","text":["底３","200人／日"],"lineHeight":42,"font":"Noto Sans CJK JP","fontSize":32,"color":"#000000","align":"center","baseline":"middle"},
   "encoding":{"x":{"datum":{"year":2022,"month":6,"date":21,"utc":true},"type":"temporal","scale":{"type":"utc","domain":[1640995200000,1669420800000]}},
    "y":{"datum":10276,"type":"quantitative","scale":{"domain":[0,60000],"nice":false},"axis":null}}},

  {"mark":{"type":"point","shape":"M-84,-133 L84,-133 L84,-48 L17,-48 L17,-35 L34,-35 L0,0 L-34,-35 L-17,-35 L-17,-48 L-84,-48 Z","size":4,"filled":true,"fill":"#dfc3fc","stroke":"#c000c0","strokeWidth":4,"strokeJoin":"miter","opacity":1},
   "encoding":{"x":{"datum":{"year":2022,"month":10,"date":15,"utc":true},"type":"temporal","scale":{"type":"utc","domain":[1640995200000,1669420800000]}},
    "y":{"datum":11172,"type":"quantitative","scale":{"domain":[0,60000],"nice":false},"axis":null}}},
  {"mark":{"type":"text","text":["底４","700人／日"],"lineHeight":42,"font":"Noto Sans CJK JP","fontSize":32,"color":"#000000","align":"center","baseline":"middle"},
   "encoding":{"x":{"datum":{"year":2022,"month":10,"date":15,"utc":true},"type":"temporal","scale":{"type":"utc","domain":[1640995200000,1669420800000]}},
    "y":{"datum":18862,"type":"quantitative","scale":{"domain":[0,60000],"nice":false},"axis":null}}},

  {"mark":{"type":"point","shape":"M-27,-10 L27,-10 L27,10 L-27,10 Z","size":4,"filled":true,"fill":"#ffffff","stroke":"#2e8b3e","strokeWidth":2,"opacity":1},
   "encoding":{"x":{"datum":{"year":2022,"month":1,"date":19,"utc":true},"type":"temporal","scale":{"type":"utc","domain":[1640995200000,1669420800000]}},
    "y":{"datum":56241,"type":"quantitative","scale":{"domain":[0,60000],"nice":false},"axis":null}}},
  {"mark":{"type":"point","shape":"M-27,4 L-21,10 M-27,-3 L-14,10 M-27,-10 L-7,10 M-20,-10 L0,10 M-13,-10 L7,10 M-6,-10 L14,10 M1,-10 L21,10 M8,-10 L27,9 M15,-10 L27,2 M22,-10 L27,-5","size":4,"filled":false,"stroke":"#2e8b3e","strokeWidth":2.5,"opacity":1},
   "encoding":{"x":{"datum":{"year":2022,"month":1,"date":19,"utc":true},"type":"temporal","scale":{"type":"utc","domain":[1640995200000,1669420800000]}},
    "y":{"datum":56241,"type":"quantitative","scale":{"domain":[0,60000],"nice":false},"axis":null}}},
  {"mark":{"type":"point","shape":"M-25,-9 L25,-9 L25,9 L-25,9 Z","size":4,"filled":true,"fill":"#ff99cc","strokeWidth":0,"opacity":1},
   "encoding":{"x":{"datum":{"year":2022,"month":1,"date":19,"utc":true},"type":"temporal","scale":{"type":"utc","domain":[1640995200000,1669420800000]}},
    "y":{"datum":43655,"type":"quantitative","scale":{"domain":[0,60000],"nice":false},"axis":null}}},
  {"mark":{"type":"point","shape":"M-28,0 L28,0","size":4,"filled":false,"stroke":"#0000ff","strokeWidth":4,"opacity":1},
   "encoding":{"x":{"datum":{"year":2022,"month":1,"date":19,"utc":true},"type":"temporal","scale":{"type":"utc","domain":[1640995200000,1669420800000]}},
    "y":{"datum":31034,"type":"quantitative","scale":{"domain":[0,60000],"nice":false},"axis":null}}},
  {"mark":{"type":"point","shape":"circle","size":60,"filled":true,"color":"#0000ff","opacity":1},
   "encoding":{"x":{"datum":{"year":2022,"month":1,"date":19,"utc":true},"type":"temporal","scale":{"type":"utc","domain":[1640995200000,1669420800000]}},
    "y":{"datum":31034,"type":"quantitative","scale":{"domain":[0,60000],"nice":false},"axis":null}}},
  {"mark":{"type":"text","text":["その日の","新規感染者の","公表人数（左軸）"],"lineHeight":38.5,"font":"Noto Sans CJK JP","fontSize":36,"color":"#000000","align":"left","baseline":"middle"},
   "encoding":{"x":{"datum":{"year":2022,"month":1,"date":27,"hours":7,"utc":true},"type":"temporal","scale":{"type":"utc","domain":[1640995200000,1669420800000]}},
    "y":{"datum":56069,"type":"quantitative","scale":{"domain":[0,60000],"nice":false},"axis":null}}},
  {"mark":{"type":"text","text":["その日を含む","過去１週間の","新規感染者","公表総数（左軸）"],"lineHeight":38.5,"font":"Noto Sans CJK JP","fontSize":36,"color":"#000000","align":"left","baseline":"middle"},
   "encoding":{"x":{"datum":{"year":2022,"month":1,"date":27,"hours":7,"utc":true},"type":"temporal","scale":{"type":"utc","domain":[1640995200000,1669420800000]}},
    "y":{"datum":43448,"type":"quantitative","scale":{"domain":[0,60000],"nice":false},"axis":null}}},
  {"mark":{"type":"text","text":["前項の","人口10万人","あたり人数（右軸）","（県人口364万人）"],"lineHeight":38.5,"font":"Noto Sans CJK JP","fontSize":36,"color":"#000000","align":"left","baseline":"middle"},
   "encoding":{"x":{"datum":{"year":2022,"month":1,"date":27,"hours":7,"utc":true},"type":"temporal","scale":{"type":"utc","domain":[1640995200000,1669420800000]}},
    "y":{"datum":30966,"type":"quantitative","scale":{"domain":[0,60000],"nice":false},"axis":null}}},
  {"mark":{"type":"text","text":"P3","font":"Liberation Sans","fontSize":56,"color":"#1a75ff","align":"center","baseline":"middle"},
   "encoding":{"x":{"datum":{"year":2022,"month":12,"date":28,"hours":5,"utc":true},"type":"temporal","scale":{"type":"utc","domain":[1640995200000,1669420800000]}},
    "y":{"datum":-9448,"type":"quantitative","scale":{"domain":[0,60000],"nice":false},"axis":null}}}
   ]}
],
"resolve":{"scale":{"y":"independent"}}
}
